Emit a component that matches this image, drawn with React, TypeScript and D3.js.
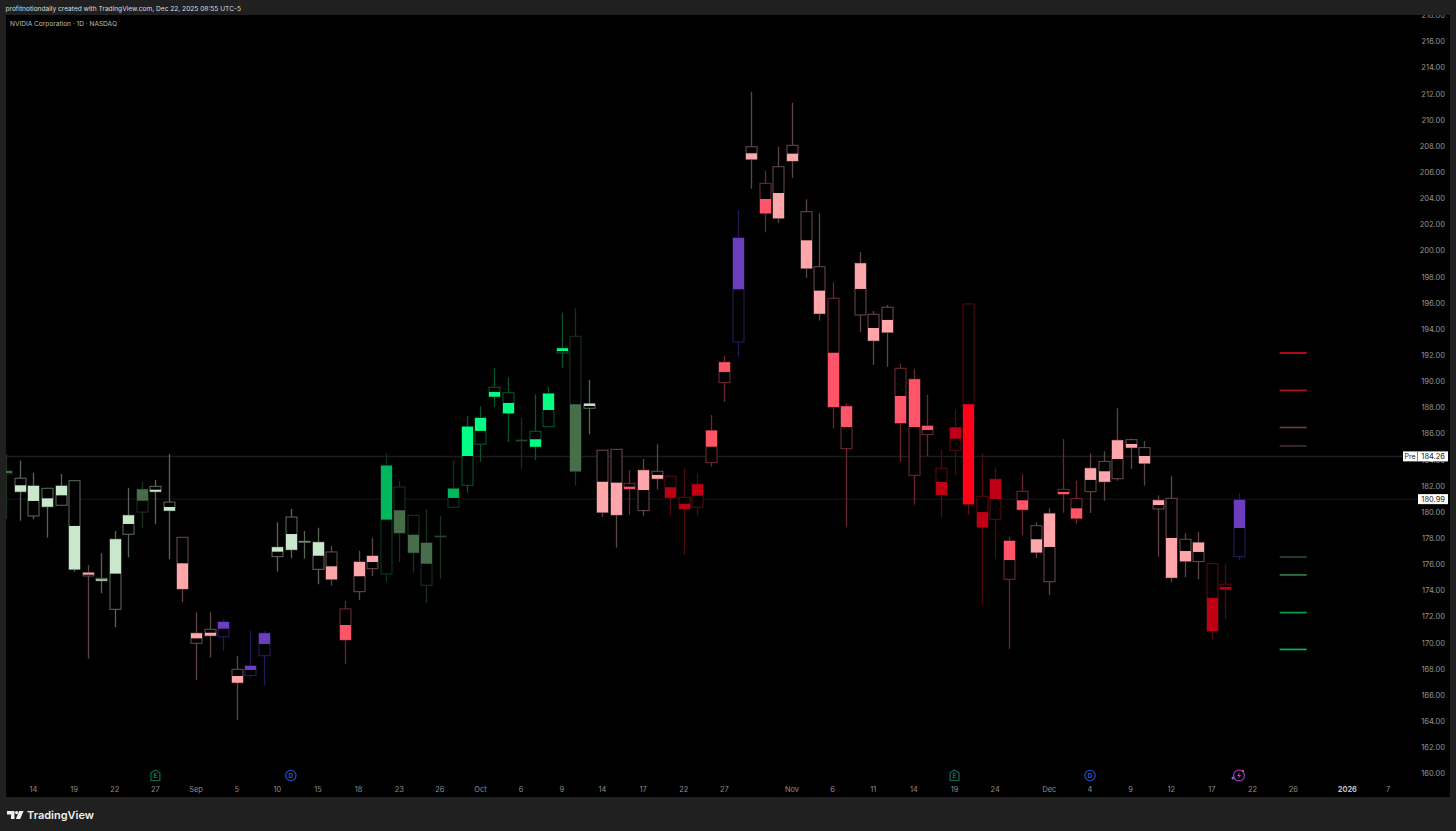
import React from "react";
import { scaleLinear, range } from "d3";

// bar values, index 0 is Aug 12
const highs = [184.44,183.93,183.01,181.86,182.91,182.46,175.95,176.85,178.55,181.86,182.32,182.46,184.44,178.07,172.33,172.33,171.80,168.99,170.90,170.90,179.22,180.24,178.55,178.80,177.43,173.20,177.05,178.04,184.50,182.38,179.78,180.21,179.72,183.98,187.33,188.09,191.00,190.31,187.20,189.01,189.55,195.25,195.59,190.10,184.75,184.83,183.22,184.06,185.19,182.74,183.40,182.97,187.43,191.94,203.11,212.16,206.12,207.95,211.32,203.93,202.86,197.58,188.32,199.90,195.38,195.84,191.38,190.97,188.96,184.75,187.81,195.92,184.50,183.43,178.12,182.89,179.22,180.29,185.59,182.38,184.47,184.65,187.94,185.64,185.44,181.28,182.78,178.38,178.48,176.08,176.08,181.44];
const lows = [179.47,179.34,179.45,178.04,180.52,175.44,168.78,173.79,171.19,176.54,178.78,179.09,176.39,173.10,167.15,168.86,169.40,164.09,167.33,166.72,175.44,176.46,176.43,174.48,174.37,168.38,173.28,175.11,174.65,176.18,175.36,173.05,174.90,180.31,181.48,183.85,188.04,185.36,183.32,183.98,186.53,191.05,182.02,185.95,179.65,177.28,179.75,179.72,181.71,179.75,176.72,179.72,183.47,188.42,191.89,204.74,201.40,202.09,205.58,197.91,194.64,186.38,178.88,193.78,191.25,191.12,183.85,180.57,184.29,179.60,182.81,179.80,172.91,176.46,169.53,178.22,176.49,173.66,179.95,179.09,179.93,180.87,182.40,183.30,182.02,176.59,174.60,175.01,174.86,170.27,171.80,176.33];
const boxTops = [183.14,182.59,182.00,181.82,182.00,182.40,175.36,174.93,177.92,179.75,181.74,181.97,180.77,178.07,170.73,171.03,171.59,167.97,168.23,170.73,177.31,179.62,177.76,177.69,176.95,172.59,176.18,176.64,183.55,181.92,179.75,177.64,178.17,181.79,186.53,187.20,189.55,189.13,185.51,186.18,189.06,192.53,193.45,188.29,184.73,184.80,182.20,183.20,183.12,182.74,181.13,182.13,186.23,191.46,200.97,207.95,205.15,206.42,208.06,202.98,198.77,196.36,188.09,199.03,195.13,195.67,191.00,190.16,186.59,183.35,186.46,195.92,181.21,182.51,177.79,181.59,178.96,179.88,181.74,181.03,183.35,183.88,185.49,185.54,184.93,180.90,181.05,177.92,177.66,176.05,174.48,180.93];
const boxBottoms = [182.91,181.56,179.70,180.41,180.52,175.62,175.11,174.75,172.56,178.30,180.00,181.56,180.11,174.12,169.96,170.54,170.47,166.95,167.49,169.01,176.59,177.12,177.72,175.62,174.86,170.22,173.91,175.67,175.26,178.40,176.89,174.40,178.13,180.37,182.05,185.19,188.83,187.56,185.47,185.00,186.53,192.17,183.12,187.94,179.98,179.78,181.77,180.11,182.55,181.10,180.24,180.37,183.78,189.90,193.01,206.99,202.86,202.48,206.86,198.65,195.18,188.04,184.85,195.08,193.11,193.75,186.81,182.81,185.92,181.31,184.73,180.60,178.84,179.45,174.86,180.18,176.92,174.67,181.38,179.52,181.56,182.32,182.55,184.93,183.73,180.24,174.98,176.24,176.21,170.90,174.09,176.59];
const mids = [182.99,182.05,180.85,181.05,181.28,178.94,175.21,174.86,175.29,179.09,180.87,181.71,180.39,176.08,170.34,170.77,171.08,167.46,167.92,169.91,176.97,178.32,177.74,176.66,175.85,171.36,175.09,176.18,179.42,180.14,178.27,176.05,178.15,181.08,184.29,186.21,189.19,188.35,185.49,185.57,187.81,192.32,188.25,188.12,182.32,182.25,181.94,181.69,182.84,181.90,180.64,181.25,185.00,190.72,197.04,207.45,203.95,204.41,207.42,200.79,196.94,192.19,186.51,197.07,194.08,194.70,188.88,186.51,186.28,182.30,185.61,188.25,180.00,181.00,176.33,180.90,177.92,177.33,181.54,180.29,182.46,183.12,184.06,185.21,184.29,180.54,178.02,177.02,176.95,173.43,174.27,178.78];
// u = filled from the split up to the box top, l = filled from the split down to the box bottom
const sides = ["u","l","u","l","u","l","u","l","u","u","u","l","l","l","u","l","u","l","u","u","u","l","u","u","l","l","u","u","u","l","l","u","u","u","u","u","l","l","u","l","u","u","l","u","l","l","l","u","l","l","l","u","u","u","u","l","l","l","l","l","l","l","u","u","l","l","l","u","u","l","u","l","l","u","u","l","l","u","l","l","u","l","u","l","l","u","l","l","u","l","l","u"];
const tiers = ["dark","pale","pale","pale","pale","pale","pink","pale","pale","pale","dark","pale","pale","pink","pink","pink","purple","pink","purple","purple","pale","pale","pale","pale","pink","coral","pink","pink","green","dark","dark","dark","dark","green","bright","bright","bright","bright","dark","bright","bright","bright","dark","pale","pink","pink","coral","pink","pink","red","red","red","coral","coral","purple","pink","coral","pink","pink","pink","pink","coral","coral","pink","pink","pink","coral","coral","coral","red","red","hot","red","red","coral","coral","pink","pink","coral","coral","pink","pink","pink","pink","pink","pink","pink","pink","pink","red","red","purple"];

const priceTicks = range(160, 220, 2);
const tickLabels = ["14","19","22","27","Sep","5","10","15","18","23","26","Oct","6","9","14","17","22","27","Nov","6","11","14","19","24","Dec","4","9","12","17","22","26","2026","7"];
const tickBars = [2,5,8,11,14,17,20,23,26,29,32,35,38,41,44,47,50,53,58,61,64,67,70,73,77,80,83,86,89,92,95,99,102];
const earningsBars = [11, 70];
const dividendBars = [21, 80];
const splitBars = [91];
const redLevels = [192.17, 189.3, 186.47, 185.06];
const greenLevels = [169.49, 172.31, 175.19, 176.56];
const prePrice = 184.26;
const lastPrice = 180.99;

const tierStyle: Record<string, { fill: string; edge: string; wick: string }> = {
  pale: { fill: "#c9e8cb", edge: "#5e6d5f", wick: "#566357" },
  dark: { fill: "#476d4b", edge: "#1d3320", wick: "#1b2f1e" },
  green: { fill: "#00b75b", edge: "#0a3f25", wick: "#06351f" },
  bright: { fill: "#00ff84", edge: "#055a31", wick: "#05562f" },
  pink: { fill: "#ffa6ab", edge: "#6b4c4e", wick: "#5e4345" },
  coral: { fill: "#ff5568", edge: "#752a34", wick: "#6a2630" },
  red: { fill: "#bf0014", edge: "#5c0a12", wick: "#4d0a10" },
  hot: { fill: "#ff0019", edge: "#560810", wick: "#56121a" },
  purple: { fill: "#6c3dbd", edge: "#2c1c60", wick: "#26175a" },
};
const redLevelColors = ["#d00a1c", "#b0181f", "#6e3a3a", "#412e2e"];
const greenLevelColors = ["#00b85c", "#00a050", "#2f7a48", "#2a4a34"];

const WIDTH = 1456;
const HEIGHT = 831;
const FONT = "Inter, Roboto, sans-serif";

function App() {
  const x = scaleLinear().domain([0, 102]).range([6.4, 1388]);
  const y = scaleLinear().domain([160, 216]).range([773.5, 41.5]);
  const px = (v: number) => Math.round(v) + 0.5;

  return (
    <svg
      width={WIDTH}
      height={HEIGHT}
      style={{ position: "absolute", left: 0, top: 0, display: "block" }}
      fontFamily={FONT}
    >
      <defs>
        <clipPath id="pane">
          <rect x={6} y={15} width={1444} height={782} />
        </clipPath>
      </defs>
      <rect width={WIDTH} height={HEIGHT} fill="#202020" />
      <rect x={6} y={15} width={1444} height={782} fill="#000" />

      <text x={5.5} y={10.5} fontSize={6.6} fill="#dcdcdc">
        profitnotiondaily created with TradingView.com, Dec 22, 2025 08:55 UTC-5
      </text>
      <text x={10} y={25.5} fontSize={6.55} fill="#bcbcbc">
        NVIDIA Corporation · 1D · NASDAQ
      </text>

      <g clipPath="url(#pane)">
        {/* price axis */}
        {priceTicks.map((p) => (
          <text key={p} x={1445} y={y(p) + 2.8} textAnchor="end" fontSize={7.5} fill="#979797">
            {p.toFixed(2)}
          </text>
        ))}

        <line x1={6} x2={1402} y1={y(prePrice)} y2={y(prePrice)} stroke="#1c1c1c" strokeWidth={1.5} />
        <line x1={6} x2={1418} y1={y(lastPrice)} y2={y(lastPrice)} stroke="#101010" strokeWidth={1.5} />

        {highs.map((h, i) => {
          const c = tierStyle[tiers[i]];
          const cx = px(x(i));
          const top = y(boxTops[i]);
          const bottom = Math.max(y(boxBottoms[i]), top + 1);
          const mid = y(mids[i]);
          const fillTop = sides[i] === "u" ? top : mid;
          const fillBottom = sides[i] === "u" ? mid : bottom;
          return (
            <g key={i}>
              <line x1={cx} x2={cx} y1={y(h)} y2={y(lows[i])} stroke={c.wick} strokeWidth={1.3} />
              <rect x={cx - 5.5} y={top} width={11} height={bottom - top} fill="#000" stroke={c.edge} />
              <rect
                x={cx - 5.5}
                y={fillTop}
                width={11}
                height={Math.max(fillBottom - fillTop, 0)}
                fill={c.fill}
              />
            </g>
          );
        })}

        {redLevels.map((p, i) => (
          <line key={p} x1={x(94)} x2={x(96)} y1={y(p)} y2={y(p)} stroke={redLevelColors[i]} strokeWidth={1.7} />
        ))}
        {greenLevels.map((p, i) => (
          <line key={p} x1={x(94)} x2={x(96)} y1={y(p)} y2={y(p)} stroke={greenLevelColors[i]} strokeWidth={1.7} />
        ))}

        {/* time axis */}
        {tickLabels.map((t, i) => (
          <text
            key={i}
            x={x(tickBars[i])}
            y={792}
            textAnchor="middle"
            fontSize={7.4}
            fill={t === "2026" ? "#c0c0c0" : "#8e8e8e"}
            fontWeight={t === "2026" ? 700 : 400}
          >
            {t}
          </text>
        ))}

        {earningsBars.map((b) => (
          <g key={b} transform={`translate(${x(b)},775.5)`}>
            <path d="M-4.5,-2.5 L0,-5.5 L4.5,-2.5 L4.5,5 L-4.5,5 Z" fill="none" stroke="#0d6b52" strokeWidth={1.2} />
            <text y={2.8} textAnchor="middle" fontSize={6.4} fontWeight={700} fill="#0f7a5d">
              E
            </text>
          </g>
        ))}
        {dividendBars.map((b) => (
          <g key={b} transform={`translate(${x(b)},775.5)`}>
            <circle r={5.2} fill="none" stroke="#1f4fc4" strokeWidth={1.2} />
            <text y={2.4} textAnchor="middle" fontSize={6.4} fontWeight={700} fill="#2a5fd8">
              D
            </text>
          </g>
        ))}
        {splitBars.map((b) => (
          <g key={b} transform={`translate(${x(b)},775.5)`}>
            <circle r={5.4} fill="none" stroke="#a03ab8" strokeWidth={1.2} />
            <path d="M1,-3.5 L-2,0.5 L0,0.5 L-1,3.5 L2,-0.5 L0,-0.5 Z" fill="#b24ad0" />
            <circle cx={4} cy={-4.5} r={1.2} fill="#f04050" />
            <circle cx={-6} cy={2.5} r={1.5} fill="#6a5cf0" />
          </g>
        ))}
      </g>

      {/* price tags */}
      <rect x={1403} y={y(prePrice) - 5} width={45} height={10} fill="#fff" />
      <line x1={1417.5} x2={1417.5} y1={y(prePrice) - 5} y2={y(prePrice) + 5} stroke="#888" />
      <text x={1410} y={y(prePrice) + 2.8} textAnchor="middle" fontSize={7} fill="#222">
        Pre
      </text>
      <text x={1445} y={y(prePrice) + 2.8} textAnchor="end" fontSize={7.5} fill="#222">
        {prePrice.toFixed(2)}
      </text>
      <rect x={1418} y={y(lastPrice) - 5} width={30} height={10} fill="#fff" />
      <text x={1445} y={y(lastPrice) + 2.8} textAnchor="end" fontSize={7.5} fill="#222">
        {lastPrice.toFixed(2)}
      </text>

      {/* footer logo */}
      <g fill="#eeeeee">
        <path d="M7,811 H14.5 V819 H11 V814.4 H7 Z" />
        <circle cx={16.6} cy={812.6} r={1.6} />
        <path d="M19.2,811 H23.6 L20.2,819 H15.8 Z" />
      </g>
      <text x={27} y={819} fontSize={11} fontWeight={600} fill="#eeeeee" fontFamily="Inter, sans-serif">
        TradingView
      </text>
    </svg>
  );
}

export default App;
